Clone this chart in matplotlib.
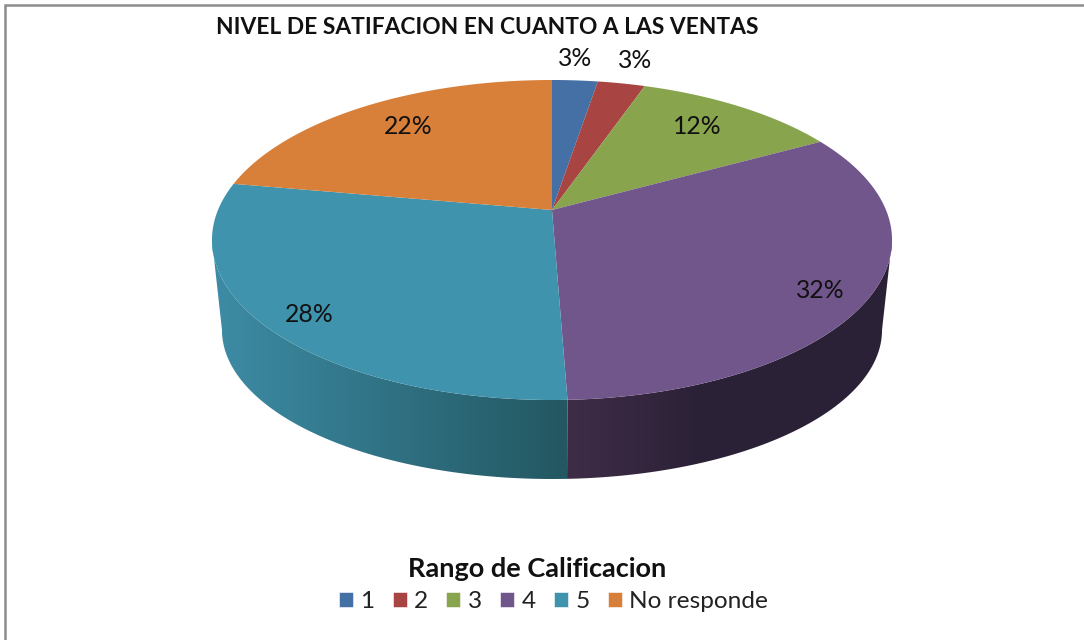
import numpy as np
import matplotlib
matplotlib.use('Agg')
import matplotlib.pyplot as plt
from matplotlib.colors import to_rgb
from matplotlib.patches import Patch, Polygon

categories = ['1', '2', '3', '4', '5', 'No responde']
values = [2.6, 2.7, 11.7, 32.4, 28.4, 22.2]
title = 'NIVEL DE SATIFACION EN CUANTO A LAS VENTAS'
legend_title = 'Rango de Calificacion'

colors = ['#4470a6', '#a84543', '#88a44d', '#71568c', '#3f93ad', '#d8803a']
# side wall shading: slice index, left colour, right colour, x range of the fade
side_shades = [(3, '#3f2d47', '#2b2137', 568, 700), (4, '#3c8aa3', '#235761', 225, 568)]
label_xy = [(575, 59), (635, 60), (697, 126), (820, 290), (309, 314), (408, 126)]

plt.rcParams['font.family'] = ['Lato', 'DejaVu Sans']


# pie plane seen in perspective, angle is clockwise from the top
def top_point(angle):
    u, t = np.sin(angle), np.cos(angle)
    d = 1 + 0.1875 * t
    return 552 + 334 * u / d, (210 - 115 * t) / d


def bottom_point(angle):
    x, y = top_point(angle)
    return 552 + (x - 552) * 330 / 340, 330 + (y - 240) * 149 / 160


fig = plt.figure(figsize=(10.84, 6.4), dpi=100)
ax = fig.add_axes([0, 0, 1, 1])

edges = np.cumsum([0] + values) / sum(values) * 2 * np.pi

# side walls first, the top covers the hidden part
for i, left, right, x0, x1 in side_shades:
    angles = np.linspace(edges[i], edges[i + 1], 600)
    tx, ty = top_point(angles)
    # keep only the part of the wall facing the viewer, from the widest point on
    if i == 3:
        angles = angles[np.argmax(tx):]
    else:
        angles = angles[:np.argmin(tx) + 1]
    tx, ty = top_point(angles)
    bx, by = bottom_point(angles)
    outline = np.c_[np.r_[tx, bx[::-1]], np.r_[ty, by[::-1]]]
    clip = Polygon(outline, closed=True, transform=ax.transData, fc='none', ec='none')
    ax.add_patch(clip)

    xmin, xmax = outline[:, 0].min(), outline[:, 0].max()
    k = np.clip((np.linspace(xmin, xmax, 700) - x0) / (x1 - x0), 0, 1)[None, :, None]
    img = np.array(to_rgb(left))[None, None, :] * (1 - k) + np.array(to_rgb(right))[None, None, :] * k
    im = ax.imshow(img, extent=(xmin, xmax, outline[:, 1].max(), outline[:, 1].min()),
                   aspect='auto', interpolation='bilinear')
    im.set_clip_path(clip)

for i, color in enumerate(colors):
    angles = np.linspace(edges[i], edges[i + 1], 200)
    xs, ys = top_point(angles)
    ax.fill(np.r_[top_point(0)[0], xs], np.r_[210, ys], color=color, lw=0)

ax.set_xlim(0, 1084)
ax.set_ylim(640, 0)
ax.axis('off')

for value, (x, y) in zip(values, label_xy):
    ax.text(x, y, '%.0f%%' % value, fontsize=17.8, color='#111111', ha='center', va='center')

ax.text(487, 27, title, fontsize=16.4, fontweight='bold', color='#111111', ha='center', va='center')
ax.text(537.5, 569, legend_title, fontsize=19.5, fontweight='bold', color='#111111', ha='center', va='center')

# only left and top of the chart frame are inside the picture
ax.plot([5.3, 5.3, 1084], [640, 5.3, 5.3], color='#8c8c8c', lw=1.8, solid_joinstyle='miter')

handles = [Patch(facecolor=c, edgecolor='white', lw=0.4) for c in colors]
ax.legend(handles, categories, ncols=6, frameon=False,
          loc='center', bbox_to_anchor=(553.5 / 1084, 1 - 602 / 640),
          fontsize=17.6, handlelength=0.57, handleheight=0.57,
          handletextpad=0.3, columnspacing=0.75, borderpad=0, labelcolor='#222222')

fig.savefig('out.png', dpi=100)
